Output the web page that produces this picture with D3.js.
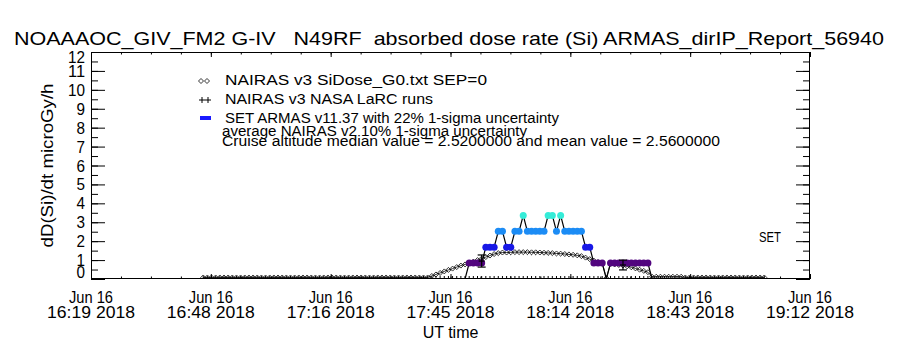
<!DOCTYPE html>
<html>
<head>
<meta charset="utf-8">
<script src="https://cdn.jsdelivr.net/npm/d3@7"></script>
<style>
  body { margin: 0; background: #fff; }
  svg { display: block; font-family: "Liberation Sans", Arimo, sans-serif; }
  svg text { white-space: pre; }
</style>
</head>
<body>
<svg id="chart" width="900" height="350"></svg>
<script>
// --- data ---
const day = "2018-06-16 ";
const axisStart = "16:19";
const axisEnd = "19:12";
const xTickTimes = ["16:19", "16:48", "17:16", "17:45", "18:14", "18:43", "19:12"];
const yTickValues = [0, 1, 2, 3, 4, 5, 6, 7, 8, 9, 10, 11, 12];

// both model and instrument series are one sample per minute starting here
const sampleStart = "16:46";

// NAIRAS v3 SiDose_G0 (diamonds)
const nairasValues = [
  0.08, 0.08, 0.08, 0.08, 0.08, 0.08, 0.08, 0.08, 0.08, 0.08,
  0.08, 0.08, 0.08, 0.08, 0.08, 0.08, 0.08, 0.08, 0.08, 0.08,
  0.08, 0.08, 0.08, 0.08, 0.08, 0.08, 0.08, 0.08, 0.08, 0.08,
  0.08, 0.08, 0.08, 0.08, 0.08, 0.08, 0.08, 0.08, 0.08, 0.08,
  0.08, 0.08, 0.08, 0.08, 0.08, 0.08, 0.08, 0.08, 0.08, 0.08,
  0.08, 0.08, 0.08, 0.08, 0.08,
  0.16, 0.24, 0.32, 0.40, 0.48, 0.55, 0.63, 0.71, 0.77, 0.85,
  0.92, 1.00, 1.08, 1.16, 1.24, 1.32, 1.37, 1.40, 1.40, 1.41,
  1.42, 1.42, 1.42, 1.42, 1.41, 1.41, 1.40, 1.39, 1.38, 1.37,
  1.35, 1.34, 1.32, 1.30, 1.28, 1.25, 1.21, 1.13, 1.05, 0.97,
  0.90, 0.85, 0.05, 0.80, 0.77, 0.74, 0.71, 0.67, 0.62, 0.56,
  0.49, 0.43, 0.36, 0.12, 0.12, 0.12, 0.12, 0.12, 0.12, 0.12,
  0.12, 0.08, 0.08, 0.08, 0.08, 0.08, 0.08, 0.08, 0.08, 0.08,
  0.08, 0.08, 0.08, 0.08, 0.08, 0.08, 0.08, 0.08, 0.08, 0.08,
  0.08
];

// SET ARMAS v11.37 dose rate
const armasValues = [
  0, 0, 0, 0, 0, 0, 0, 0, 0, 0,
  0, 0, 0, 0, 0, 0, 0, 0, 0, 0,
  0, 0, 0, 0, 0, 0, 0, 0, 0, 0,
  0, 0, 0, 0, 0, 0, 0, 0, 0, 0,
  0, 0, 0, 0, 0, 0, 0, 0, 0, 0,
  0, 0, 0, 0, 0, 0, 0, 0, 0, 0,
  0, 0, 0, 0,
  0.84, 0.84, 0.84, 0.84, 1.68, 1.68, 1.68, 2.52, 2.52, 1.68,
  1.68, 2.52, 2.52, 3.36, 2.52, 2.52, 2.52, 2.52, 2.52, 3.36,
  3.36, 2.52, 3.36, 2.52, 2.52, 2.52, 2.52, 2.52, 1.68, 1.68,
  0.84, 0.84, 0.84, 0, 0.84, 0.84, 0.84, 0.84, 0.84, 0.84,
  0.84, 0.84, 0.84, 0.84,
  0, 0, 0, 0, 0, 0, 0, 0, 0, 0,
  0, 0, 0, 0, 0, 0, 0, 0, 0, 0,
  0, 0, 0, 0, 0, 0, 0, 0
];

// NAIRAS v3 NASA LaRC runs (with error bars)
const larcTimes = ["17:53", "18:27"];
const larcValues = [0.95, 0.74];
const larcErrors = [0.32, 0.26];

const armasLevels = [0.5, 1.2, 2.0, 3.0];
const armasColors = [null, "#52057f", "#1818e6", "#1c8cf5", "#35ecd8"];

const titleText = "NOAAAOC_GIV_FM2 G-IV   N49RF  absorbed dose rate (Si) ARMAS_dirIP_Report_56940";
const legendLabels = [
  "NAIRAS v3 SiDose_G0.txt SEP=0",
  "NAIRAS v3 NASA LaRC runs",
  "SET ARMAS v11.37 with 22% 1-sigma uncertainty",
  "average NAIRAS v2 10% 1-sigma uncertainty",
  "Cruise altitude median value = 2.5200000 and mean value = 2.5600000"
];

// --- setup ---
const svg = d3.select("#chart");
const plot = { left: 91, right: 810, top: 52, bottom: 279 };

const parse = d3.timeParse("%Y-%m-%d %H:%M");
const t0 = parse(day + axisStart);
const t1 = parse(day + axisEnd);
const s0 = parse(day + sampleStart);

const x = d3.scaleTime().domain([t0, t1]).range([plot.left, plot.right]);
const y = d3.scaleLinear().domain([0, 12]).range([plot.bottom, plot.top]);
const color = d3.scaleThreshold().domain(armasLevels).range(armasColors);

const minute = 60000;
const nairas = nairasValues.map((v, i) => ({ t: new Date(+s0 + i * minute), v }));
const armas = armasValues.map((v, i) => ({ t: new Date(+s0 + i * minute), v }));
const larc = larcTimes.map((s, i) => ({ t: parse(day + s), v: larcValues[i], e: larcErrors[i] }));

// tick positions split the axis span evenly, like the original
const majorTicks = d3.range(7).map(i => new Date(+t0 + i * (t1 - t0) / 6));
const minorTicks = d3.range(25).map(i => new Date(+t0 + i * (t1 - t0) / 24));

svg.append("defs").append("clipPath").attr("id", "clip")
  .append("rect")
  .attr("x", plot.left).attr("y", plot.top)
  .attr("width", plot.right - plot.left).attr("height", plot.bottom - plot.top);

// --- axes ---
function drawAxis(axis, transform) {
  svg.append("g")
    .attr("transform", transform)
    .call(axis)
    .call(g => g.select(".domain").remove())
    .call(g => g.selectAll("line").attr("stroke", "#000"));
}
drawAxis(d3.axisBottom(x).tickValues(minorTicks).tickSize(-2.5).tickFormat(""), `translate(0,${plot.bottom})`);
drawAxis(d3.axisBottom(x).tickValues(majorTicks).tickSize(-5).tickFormat(""), `translate(0,${plot.bottom})`);
drawAxis(d3.axisTop(x).tickValues(minorTicks).tickSize(-2.5).tickFormat(""), `translate(0,${plot.top})`);
drawAxis(d3.axisTop(x).tickValues(majorTicks).tickSize(-5).tickFormat(""), `translate(0,${plot.top})`);

const yMinor = d3.range(0, 12.01, 0.5);
drawAxis(d3.axisLeft(y).tickValues(yMinor).tickSize(-7).tickFormat(""), `translate(${plot.left},0)`);
drawAxis(d3.axisLeft(y).tickValues(yTickValues).tickSize(-14).tickFormat(""), `translate(${plot.left},0)`);
drawAxis(d3.axisRight(y).tickValues(yMinor).tickSize(-7).tickFormat(""), `translate(${plot.right},0)`);
drawAxis(d3.axisRight(y).tickValues(yTickValues).tickSize(-14).tickFormat(""), `translate(${plot.right},0)`);

svg.append("rect")
  .attr("x", plot.left + 0.5).attr("y", plot.top + 0.5)
  .attr("width", plot.right - plot.left - 1).attr("height", plot.bottom - plot.top - 1)
  .attr("fill", "none").attr("stroke", "#000");

// y tick labels (end labels kept inside the frame)
svg.append("g").selectAll("text")
  .data(yTickValues)
  .join("text")
  .attr("x", plot.left - 6)
  .attr("y", d => d === 0 ? plot.bottom - 1 : d === 12 ? plot.top + 11 : y(d) + 6)
  .attr("text-anchor", "end")
  .attr("font-size", 16)
  .attr("textLength", d => String(d).length * 8.5)
  .attr("lengthAdjust", "spacingAndGlyphs")
  .text(d => d);

// x tick labels, two lines
const xLabels = svg.append("g").selectAll("g")
  .data(majorTicks)
  .join("g")
  .attr("transform", d => `translate(${x(d)},0)`);
xLabels.append("text")
  .attr("y", 303).attr("text-anchor", "middle").attr("font-size", 16)
  .attr("textLength", 44).attr("lengthAdjust", "spacingAndGlyphs")
  .text(d => d3.timeFormat("%b %d")(d));
xLabels.append("text")
  .attr("y", 318).attr("text-anchor", "middle").attr("font-size", 16)
  .attr("textLength", 88).attr("lengthAdjust", "spacingAndGlyphs")
  .text((d, i) => xTickTimes[i] + " 2018");

svg.append("text")
  .attr("x", (plot.left + plot.right) / 2).attr("y", 338)
  .attr("text-anchor", "middle").attr("font-size", 16)
  .text("UT time");

svg.append("text")
  .attr("transform", `translate(53,${(plot.top + plot.bottom) / 2}) rotate(-90)`)
  .attr("text-anchor", "middle").attr("font-size", 16)
  .attr("textLength", 164).attr("lengthAdjust", "spacingAndGlyphs")
  .text("dD(Si)/dt microGy/h");

svg.append("text")
  .attr("x", 449).attr("y", 45)
  .attr("text-anchor", "middle").attr("font-size", 19)
  .attr("textLength", 870).attr("lengthAdjust", "spacingAndGlyphs")
  .text(titleText);

// --- data ---
const g = svg.append("g").attr("clip-path", "url(#clip)");

const line = d3.line().x(d => x(d.t)).y(d => y(d.v));

// NAIRAS diamonds
g.append("path").datum(nairas)
  .attr("d", line).attr("fill", "none").attr("stroke", "#000").attr("stroke-width", 0.8);
g.append("g").selectAll("path")
  .data(nairas)
  .join("path")
  .attr("d", d => {
    const cx = x(d.t), cy = y(d.v);
    return `M${cx - 2.5},${cy}L${cx},${cy - 2.5}L${cx + 2.5},${cy}L${cx},${cy + 2.5}Z`;
  })
  .attr("fill", "none").attr("stroke", "#000").attr("stroke-width", 0.8);

// sample marks along the baseline
g.append("g").selectAll("line")
  .data(armas)
  .join("line")
  .attr("x1", d => x(d.t)).attr("x2", d => x(d.t))
  .attr("y1", y(0)).attr("y2", y(0) - 3)
  .attr("stroke", "#000");

// ARMAS line + coloured dots
g.append("path").datum(armas)
  .attr("d", line).attr("fill", "none").attr("stroke", "#000").attr("stroke-width", 1.2);
g.append("g").selectAll("circle")
  .data(armas.filter(d => d.v > 0))
  .join("circle")
  .attr("cx", d => x(d.t)).attr("cy", d => y(d.v))
  .attr("r", 3.5)
  .attr("fill", d => color(d.v));

// LaRC runs: plus with error bar
const larcG = g.append("g").selectAll("g")
  .data(larc)
  .join("g")
  .attr("stroke", "#000").attr("stroke-width", 1.2);
larcG.append("line")
  .attr("x1", d => x(d.t)).attr("x2", d => x(d.t))
  .attr("y1", d => y(d.v - d.e)).attr("y2", d => y(d.v + d.e));
larcG.append("line")
  .attr("x1", d => x(d.t) - 4).attr("x2", d => x(d.t) + 4)
  .attr("y1", d => y(d.v - d.e)).attr("y2", d => y(d.v - d.e));
larcG.append("line")
  .attr("x1", d => x(d.t) - 4).attr("x2", d => x(d.t) + 4)
  .attr("y1", d => y(d.v + d.e)).attr("y2", d => y(d.v + d.e));
larcG.append("line")
  .attr("x1", d => x(d.t) - 3).attr("x2", d => x(d.t) + 3)
  .attr("y1", d => y(d.v)).attr("y2", d => y(d.v));

// --- legend ---
const legend = svg.append("g").attr("font-size", 14);
const legendRows = [
  { y: 85, w: 262 },
  { y: 104, w: 208 },
  { y: 123, w: 334 },
  { y: 136, w: 305 },
  { y: 146, w: 498 }
];
legend.selectAll("text")
  .data(legendLabels)
  .join("text")
  .attr("x", (d, i) => i < 3 ? 225 : 222)
  .attr("y", (d, i) => legendRows[i].y)
  .attr("textLength", (d, i) => legendRows[i].w)
  .attr("lengthAdjust", "spacingAndGlyphs")
  .text(d => d);

[201, 207].forEach(cx => {
  legend.append("path")
    .attr("d", `M${cx - 2.5},81L${cx},78.5L${cx + 2.5},81L${cx},83.5Z`)
    .attr("fill", "none").attr("stroke", "#000").attr("stroke-width", 0.8);
});
legend.append("path")
  .attr("d", "M199,100H211M202,97V103M208,97V103")
  .attr("stroke", "#000").attr("stroke-width", 1);
legend.append("rect")
  .attr("x", 200).attr("y", 116).attr("width", 11).attr("height", 4)
  .attr("fill", "#1a1aff");

svg.append("text")
  .attr("x", 759).attr("y", 242)
  .attr("font-size", 14)
  .attr("textLength", 22).attr("lengthAdjust", "spacingAndGlyphs")
  .text("SET");
</script>
</body>
</html>
